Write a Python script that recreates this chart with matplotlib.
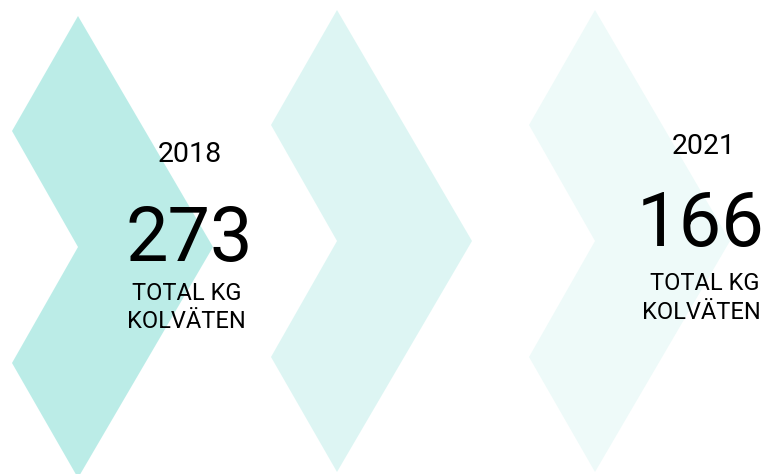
import matplotlib.pyplot as plt
from matplotlib.patches import Polygon

# data
years = ["2018", "2021"]
values = ["273", "166"]
unit_lines = ["TOTAL KG", "KOLVÄTEN"]

# layout (pixels, y downwards)
W, H = 767, 474
chevron_left = [12, 271, 529]
chevron_top = [16, 10, 10]
chevron_alpha = [0.5, 0.25, 0.125]
base_color = "#79dbd1"

text_blocks = [
    # x centers, baselines for year / value / unit lines
    dict(x=(190, 189, 187, 186), y=(162, 261, 300, 328)),
    dict(x=(704, 701, 705, 701), y=(154.5, 246, 290, 319)),
]


def chevron(left, top, half=231, notch=66, tip=135, side=115):
    return [
        (left + notch, top),
        (left + notch + tip, top + half),
        (left + notch, top + 2 * half),
        (left, top + 2 * half - side),
        (left + notch, top + half),
        (left, top + side),
    ]


fig = plt.figure(figsize=(W / 100, H / 100), dpi=100)
ax = fig.add_axes([0, 0, 1, 1])
ax.set_xlim(0, W)
ax.set_ylim(H, 0)
ax.axis("off")

for left, top, a in zip(chevron_left, chevron_top, chevron_alpha):
    ax.add_patch(Polygon(chevron(left, top), closed=True, facecolor=base_color,
                         alpha=a, edgecolor="none"))

for year, val, blk in zip(years, values, text_blocks):
    xs, ys = blk["x"], blk["y"]
    ax.text(xs[0], ys[0], year, ha="center", va="baseline", fontsize=20.5,
            family="Roboto", color="black")
    ax.text(xs[1], ys[1], val, ha="center", va="baseline", fontsize=54.5,
            family="Roboto", color="black")
    for line, x, y in zip(unit_lines, xs[2:], ys[2:]):
        ax.text(x, y, line, ha="center", va="baseline", fontsize=17,
                family="Roboto", color="black")

fig.savefig("out.png", dpi=100)
